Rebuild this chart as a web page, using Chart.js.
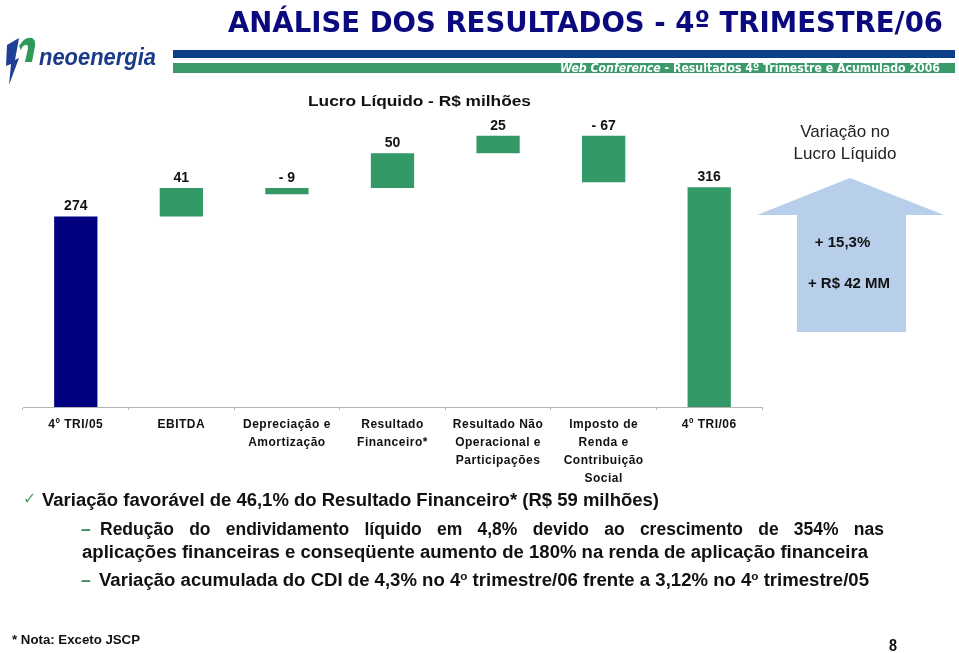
<!DOCTYPE html>
<html>
<head>
<meta charset="utf-8">
<script src="https://cdn.jsdelivr.net/npm/chart.js@4.4.1/dist/chart.umd.min.js"></script>
<style>
  html, body { margin: 0; padding: 0; background: #fff; }
  body { width: 959px; height: 653px; position: relative; overflow: hidden; font-family: "Liberation Sans", Arial, sans-serif; color: #111; }
  #chart { position: absolute; left: 0; top: 0; }
  .abs { position: absolute; white-space: nowrap; }
  .fit { transform-origin: 0 50%; }
</style>
</head>
<body>
<canvas id="chart" width="959" height="653"></canvas>

<!-- header -->
<svg class="abs" style="left:0;top:0" width="959" height="90">
  <rect x="173" y="50" width="782" height="8" fill="#0B4088"/>
  <rect x="173" y="63" width="782" height="10" fill="#3A9A6A"/>
  <path d="M7 45 L19 38 L15 60 L19 58 L9 85 L11 64 L6 66 Z" fill="#1F3F96"/>
  <path d="M19 46 Q25 36 32 38 Q36 40 35 46 L32 62 L25 62 L28 48 Q28 44 25 45 Q22 46 21 50 Z" fill="#2E9A5A"/>
</svg>
<div class="abs fit" data-w="117" style="left:39px;top:43px;font:italic bold 23px 'Liberation Sans';color:#1B3A8A;line-height:28px" id="logo">neoenergia</div>
<div class="abs fit" id="title" data-w="715" style="left:228px;top:3px;font:bold 29px 'DejaVu Sans';color:#0A0A7E;line-height:38px">ANÁLISE DOS RESULTADOS - 4º TRIMESTRE/06</div>
<div class="abs fit" id="sub" data-w="380" style="left:560px;top:61px;font:bold 12px 'DejaVu Sans';color:#fff;line-height:14px"><i>Web Conference</i> - Resultados 4º Trimestre e Acumulado 2006</div>

<!-- chart title & side notes -->
<div class="abs fit" data-w="223" style="left:308px;top:91px;font:bold 15.5px 'Liberation Sans';color:#111;line-height:20px">Lucro Líquido - R$ milhões</div>
<div class="abs" style="left:745px;width:200px;top:121px;text-align:center;font:17px 'Liberation Sans';color:#222;line-height:22px">Variação no<br>Lucro Líquido</div>

<svg class="abs" style="left:740px;top:170px" width="219" height="170">
  <polygon points="110,8 17,45 57,45 57,162 166,162 166,45 204,45" fill="#B7CFEA"/>
</svg>
<div class="abs" style="left:760px;width:165px;top:232px;text-align:center;font:bold 15px 'Liberation Sans';color:#111;line-height:20px">+ 15,3%</div>
<div class="abs" style="left:760px;width:178px;top:273px;text-align:center;font:bold 15px 'Liberation Sans';color:#111;line-height:20px">+ R$ 42 MM</div>

<!-- bullets -->
<div class="abs" style="left:23px;top:488px;font:bold 16px 'DejaVu Sans';color:#4E9A6E;line-height:22px">✓</div>
<div class="abs fit" data-w="617" style="left:42px;top:489px;font:bold 17.5px 'Liberation Sans';color:#111;line-height:22px">Variação favorável de 46,1% do Resultado Financeiro* (R$ 59 milhões)</div>

<div class="abs" style="left:81px;top:518px;font:bold 17.5px 'Liberation Sans';color:#3E8A5E;line-height:22px">–</div>
<div class="abs" style="left:100px;width:784px;top:518px;font:bold 17.5px 'Liberation Sans';color:#111;line-height:22px;white-space:normal;text-align:justify;text-align-last:justify">Redução do endividamento líquido em 4,8% devido ao crescimento de 354% nas</div>
<div class="abs fit" data-w="786" style="left:82px;top:541px;font:bold 17.5px 'Liberation Sans';color:#111;line-height:22px">aplicações financeiras e conseqüente aumento de 180% na renda de aplicação financeira</div>

<div class="abs" style="left:81px;top:569px;font:bold 17.5px 'Liberation Sans';color:#3E8A5E;line-height:22px">–</div>
<div class="abs fit" data-w="770" style="left:99px;top:569px;font:bold 17.5px 'Liberation Sans';color:#111;line-height:22px">Variação acumulada do CDI de 4,3% no 4<sup style="font-size:11px;vertical-align:6px;line-height:0">o</sup> trimestre/06 frente a 3,12% no 4<sup style="font-size:11px;vertical-align:6px;line-height:0">o</sup> trimestre/05</div>

<!-- footer -->
<div class="abs fit" data-w="128" style="left:12px;top:631px;font:bold 13px 'Liberation Sans';color:#111;line-height:18px">* Nota: Exceto JSCP</div>
<div class="abs" style="left:889px;top:636px;font:bold 17px 'Liberation Sans';color:#111;line-height:20px;transform:scaleX(0.85);transform-origin:0 50%">8</div>

<script>
// ---- data ----
const categories = [
  ["4º TRI/05"],
  ["EBITDA"],
  ["Depreciação e", "Amortização"],
  ["Resultado", "Financeiro*"],
  ["Resultado Não", "Operacional e", "Participações"],
  ["Imposto de", "Renda e", "Contribuição", "Social"],
  ["4º TRI/06"]
];
const valueLabels = ["274", "41", "- 9", "50", "25", "- 67", "316"];
const barStart = [0, 274, 306, 315, 365, 323, 0];
const barEnd   = [274, 315, 315, 365, 390, 390, 316];

// ---- fit text widths ----
document.querySelectorAll('.fit').forEach(el => {
  const target = parseFloat(el.dataset.w);
  const w = el.getBoundingClientRect().width;
  if (w > 0) el.style.transform = 'scaleX(' + (target / w) + ')';
});

const NAVY = '#000080';
const GREEN = '#339966';

const labelPlugin = {
  id: 'valueLabels',
  beforeDraw(chart) { chart.ctx.letterSpacing = '0.5px'; },
  beforeDatasetsDraw(chart) { chart.ctx.letterSpacing = '0px'; },
  afterDatasetsDraw(chart) {
    const ctx = chart.ctx;
    const meta = chart.getDatasetMeta(0);
    ctx.save();
    ctx.letterSpacing = '0px';
    ctx.font = 'bold 14px "Liberation Sans", Arial, sans-serif';
    ctx.fillStyle = '#111';
    ctx.textAlign = 'center';
    ctx.textBaseline = 'middle';
    meta.data.forEach((el, i) => {
      const top = Math.min(el.y, el.base);
      ctx.fillText(valueLabels[i], el.x, top - 10);
    });
    ctx.restore();
  }
};

new Chart(document.getElementById('chart'), {
  type: 'bar',
  data: {
    labels: categories,
    datasets: [{
      data: barStart.map((s, i) => [s, barEnd[i]]),
      backgroundColor: ctx => ctx.dataIndex === 0 ? NAVY : GREEN,
      borderWidth: 0,
      barPercentage: 0.41,
      categoryPercentage: 1.0
    }]
  },
  options: {
    responsive: false,
    animation: false,
    events: [],
    layout: { padding: { left: 23, right: 197, top: 101, bottom: 0 } },
    plugins: { legend: { display: false }, tooltip: { enabled: false } },
    scales: {
      y: { display: false, min: 0, max: 440 },
      x: {
        afterFit: s => { s.height = 246; },
        border: { display: true, color: '#b5b5b5', width: 1 },
        grid: { display: true, drawOnChartArea: false, color: '#b5b5b5', tickLength: 3, offset: true },
        ticks: {
          autoSkip: false, maxRotation: 0, minRotation: 0, padding: 6,
          color: '#111',
          font: { family: '"Liberation Sans", Arial, sans-serif', size: 12, weight: 'bold', lineHeight: 1.5 }
        }
      }
    }
  },
  plugins: [labelPlugin]
});
</script>
</body>
</html>
